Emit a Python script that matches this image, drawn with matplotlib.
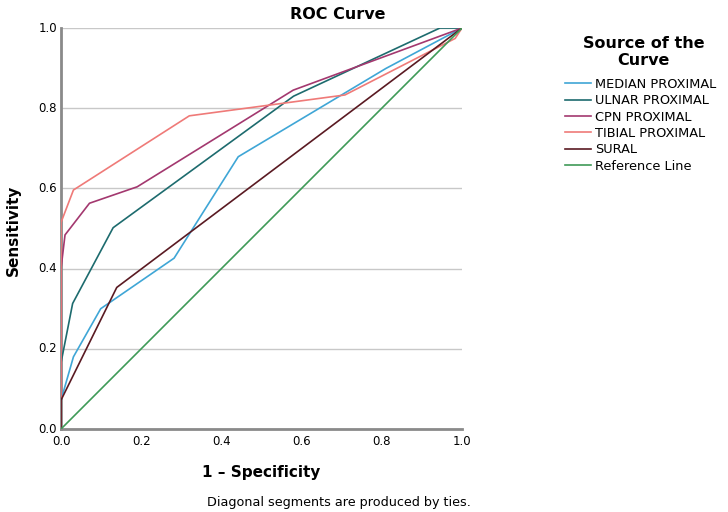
import matplotlib
matplotlib.use("Agg")
import matplotlib.pyplot as plt

# Data (FPR = 1 - specificity, TPR = sensitivity)
median_x = [0.0, 0.0, 0.031, 0.099, 0.282, 0.442, 0.81, 1.0]
median_y = [0.0, 0.072, 0.18, 0.30, 0.426, 0.679, 0.899, 1.0]

ulnar_x = [0.0, 0.0, 0.029, 0.13, 0.58, 0.945, 1.0]
ulnar_y = [0.0, 0.165, 0.313, 0.502, 0.83, 1.0, 1.0]

cpn_x = [0.0, 0.0, 0.01, 0.071, 0.19, 0.579, 1.0]
cpn_y = [0.0, 0.40, 0.484, 0.563, 0.604, 0.845, 1.0]

tibial_x = [0.0, 0.0, 0.031, 0.32, 0.708, 0.983, 1.0]
tibial_y = [0.0, 0.515, 0.596, 0.781, 0.833, 0.974, 1.0]

sural_x = [0.0, 0.0, 0.139, 1.0]
sural_y = [0.0, 0.072, 0.353, 1.0]

ref_x = [0.0, 1.0]
ref_y = [0.0, 1.0]

labels = ["MEDIAN PROXIMAL", "ULNAR PROXIMAL", "CPN PROXIMAL",
          "TIBIAL PROXIMAL", "SURAL", "Reference Line"]
colors = ["#3fa6d6", "#1d6b6e", "#a3386f", "#ef7a78", "#5a1a22", "#3f9a58"]

ticks = [0.0, 0.2, 0.4, 0.6, 0.8, 1.0]
tick_labels = ["0.0", "0.2", "0.4", "0.6", "0.8", "1.0"]

plt.rcParams['font.family'] = ['DejaVu Sans']
fig = plt.figure(figsize=(7.28, 5.12), dpi=100)
ax = fig.add_axes([0.0838, 0.1621, 0.5508, 0.7832])

series = [(median_x, median_y), (ulnar_x, ulnar_y), (cpn_x, cpn_y),
          (tibial_x, tibial_y), (sural_x, sural_y), (ref_x, ref_y)]
for (xs, ys), lab, c in zip(series, labels, colors):
    ax.plot(xs, ys, color=c, lw=1.2, label=lab, zorder=3)

ax.set_xlim(0, 1)
ax.set_ylim(0, 1)
ax.set_xticks(ticks)
ax.set_xticklabels(tick_labels)
ax.set_yticks(ticks)
ax.set_yticklabels(tick_labels)
ax.tick_params(length=0, labelsize=8.5, pad=3)
ax.tick_params(axis='x', pad=4)
for t in ax.get_yticklabels():
    t.set_verticalalignment('center')
ax.grid(axis='y', color='#c8c8c8', lw=1.0, zorder=1)
for s in ['top', 'right']:
    ax.spines[s].set_visible(False)
for s in ['left', 'bottom']:
    ax.spines[s].set_color('#8a8a8a')
    ax.spines[s].set_linewidth(2.0)

fig.text(0.464, 0.972, "ROC Curve", ha='center', va='center',
         fontsize=11.5, fontweight='bold')
fig.text(0.019, 0.55, "Sensitivity", ha='center', va='center',
         rotation=90, fontsize=11, fontweight='bold')
fig.text(0.359, 0.078, "1 – Specificity", ha='center', va='center',
         fontsize=11, fontweight='bold')
fig.text(0.465, 0.018, "Diagonal segments are produced by ties.",
         ha='center', va='center', fontsize=9.2)

fig.text(0.884, 0.898, "Source of the\nCurve", ha='center', va='center',
         fontsize=11.5, fontweight='bold', multialignment='center',
         linespacing=1.15)

leg = ax.legend(loc='upper left', bbox_to_anchor=(0.776, 0.848),
                bbox_transform=fig.transFigure, frameon=False,
                fontsize=9.3, handlelength=2.0, handletextpad=0.3,
                labelspacing=0.26, borderaxespad=0, borderpad=0)

fig.savefig("out.png", dpi=100)
